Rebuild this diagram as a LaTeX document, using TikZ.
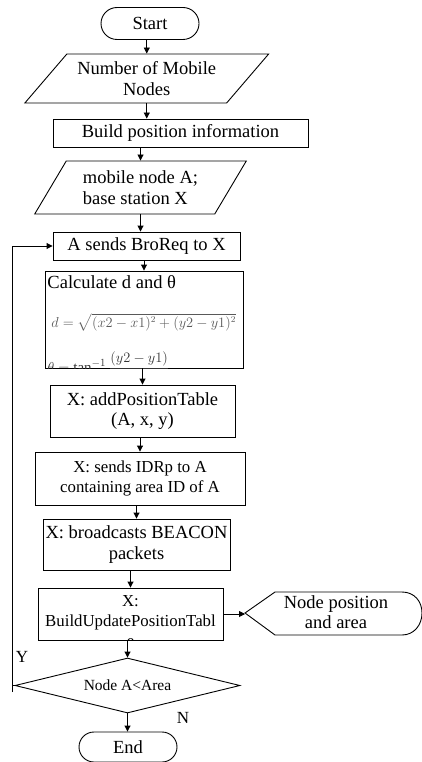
\documentclass[tikz,border=0pt]{standalone}
\usepackage{amsmath}
\usepackage{fontspec}
\setmainfont{Liberation Serif}
\usetikzlibrary{shapes.geometric,shapes.misc,arrows.meta}

\begin{document}
\begin{tikzpicture}[x=1pt,y=-1pt,
    font=\fontsize{18.5}{20.5}\selectfont,
    line width=0.9pt,
    proc/.style={draw, rectangle, inner sep=1pt, align=center},
    term/.style={draw, rounded rectangle, inner sep=1pt, minimum width=100, minimum height=32},
    io/.style={draw, trapezium, trapezium stretches=true, inner sep=1pt},
    arr/.style={-{Triangle[length=6pt,width=6pt]}}]
    \useasboundingbox (0,0) rectangle (422,762);
    % Nodi
    \node[term] (start) at (150,23.5) {Start};
    \node[io, align=center, minimum width=244, minimum height=49,
          trapezium left angle=44, trapezium right angle=136] (num) at (146.75,78.5) {Number of Mobile\\Nodes};
    \node[proc, minimum width=255, minimum height=28] (build) at (180.5,133) {Build position information};
    \node[io, align=left, minimum width=212, minimum height=53,
          trapezium left angle=55, trapezium right angle=125] (mob) at (140.5,187.5) {mobile node A;\\base station X};
    \node[proc, minimum width=187, minimum height=28] (req) at (146.5,246) {A sends BroReq to X};
    \node[proc, minimum width=198, minimum height=97] (calc) at (144,319.5) {};
    \node[proc, minimum width=185, minimum height=52] (add) at (142.5,411) {X: addPositionTable\\(A, x, y)};
    \node[proc, minimum width=210, minimum height=53,
          font=\fontsize{16.8}{20}\selectfont] (idrp) at (140,478.5) {X: sends IDRp to A\\containing area ID of A};
    \node[proc, minimum width=187, minimum height=51] (bcast) at (136.5,544.5) {X: broadcasts BEACON\\packets};
    \node[proc, minimum width=185, minimum height=52] (bupt) at (130.5,614) {};
    \node[draw, diamond, aspect=4.09, inner sep=1pt, minimum width=225, minimum height=55,
          font=\fontsize{15.5}{17}\selectfont] (dec) at (127.5,685.5) {Node A<Area};
    \node[term, minimum height=30] (end) at (128,747) {End};
    \node[align=center, inner sep=0pt] (disp) at (336,612) {Node position\\and area};
    % Testo tagliato nei riquadri
    \begin{scope}
        \clip (calc.south west) rectangle (calc.north east);
        \node[anchor=base west, inner sep=0pt] (calctxt) at (47,288) {Calculate d and θ};
        \node[anchor=base west, inner sep=0pt, text=black!65, font=\fontsize{13.5}{16}\selectfont] (calcd) at (51,327)
            {$d=\sqrt{(x2-x1)^2+(y2-y1)^2}$};
        \node[anchor=base west, inner sep=0pt, text=black!80, font=\fontsize{15}{17}\selectfont] (calct) at (47,372)
            {$\theta=\tan^{-1}\dfrac{(y2-y1)}{(x2-x1)}$};
    \end{scope}
    \begin{scope}
        \clip (bupt.south west) rectangle (bupt.north east);
        \node[anchor=north, align=center, inner sep=0pt, font=\fontsize{16.8}{20}\selectfont] (bupttxt) at (130.5,595)
            {X:\\BuildUpdatePositionTabl\\e};
    \end{scope}
    % Forma display
    \coordinate (dispL) at (245,613);
    \draw (dispL) -- (275,592) -- (402,592) .. controls (414,592) and (422,601) .. (422,613)
          .. controls (422,625) and (414,635) .. (402,635) -- (275,635) -- cycle;
    % Frecce
    \draw[arr] (num.north |- start.south) -- (num.north);
    \draw[arr] (num.south) -- (num.south |- build.north);
    \draw[arr] (mob.north |- build.south) -- (mob.north);
    \draw[arr] (mob.south) -- (mob.south |- req.north);
    \draw[arr] (calc.north |- req.south) -- (calc.north);
    \draw[arr] (add.north |- calc.south) -- (add.north);
    \draw[arr] (idrp.north |- add.south) -- (idrp.north);
    \draw[arr] (bcast.north |- idrp.south) -- (bcast.north);
    \draw[arr] (bupt.north |- bcast.south) -- (bupt.north);
    \draw[arr] (dec.north |- bupt.south) -- (dec.north);
    \draw[arr] (dec.south) -- (dec.south |- end.north);
    \draw[arr] (bupt.east) -- (bupt.east -| dispL);
    % Ritorno
    \coordinate (loopB) at (12,692);
    \draw (dec.west) -- (dec.west -| loopB);
    \draw[arr] (loopB) |- (req.west);
    \node[font=\fontsize{17}{19}\selectfont] (ylab) at (22,657) {Y};
    \node[font=\fontsize{17}{19}\selectfont] (nlab) at (183,718) {N};
\end{tikzpicture}
\end{document}
